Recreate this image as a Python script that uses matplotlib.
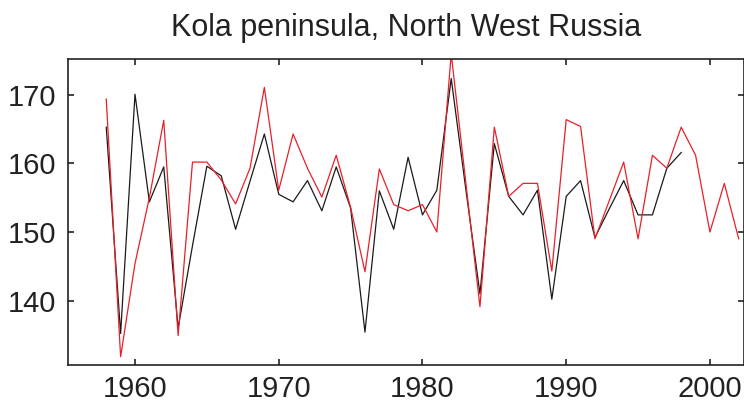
import numpy as np
import matplotlib
matplotlib.use("Agg")
import matplotlib.pyplot as plt

plt.rcParams['font.family'] = ['Liberation Sans', 'DejaVu Sans']

# black series 1958-1998, red series 1958-2002
years_black = list(range(1958, 1999))
black = [165.3, 135.2, 170.1, 154.4, 159.5, 136.0, 148.0, 159.6, 158.2, 150.4,
         157.4, 164.3, 155.5, 154.4, 157.5, 153.1, 159.5, 153.5, 135.4, 156.0,
         150.4, 160.9, 152.5, 156.1, 172.4, 156.5, 141.0, 162.9, 155.2, 152.5,
         156.1, 140.2, 155.2, 157.5, 149.2, 153.4, 157.5, 152.5, 152.5, 159.3,
         161.6]

years_red = list(range(1958, 2003))
red = [169.4, 131.8, 145.4, 155.0, 166.3, 134.9, 160.2, 160.2, 157.6, 154.1,
       159.3, 171.1, 156.1, 164.3, 159.3, 155.1, 161.2, 153.6, 144.2, 159.2,
       154.0, 153.1, 154.0, 150.0, 176.0, 157.5, 139.1, 165.3, 155.2, 157.1,
       157.1, 144.3, 166.4, 165.4, 149.0, 154.6, 160.2, 149.0, 161.2, 159.3,
       165.3, 161.2, 150.0, 157.1, 149.0]

xticks = [1960, 1970, 1980, 1990, 2000]
yticks = [140, 150, 160, 170]

fig = plt.figure(figsize=(7.44, 4.05), dpi=100)
ax = fig.add_axes([0.0918, 0.0988, 0.9082, 0.7548])

ax.plot(years_black, black, color='#1a1a1a', lw=0.9)
ax.plot(years_red, red, color='#e8202a', lw=0.9)

ax.set_xlim(1955.36, 2002.37)
ax.set_ylim(130.6, 175.2)
ax.set_xticks(xticks)
ax.set_yticks(yticks)
ax.tick_params(direction='in', length=4, width=1.2, colors='#222222',
               labelsize=21, top=True, right=True)
ax.tick_params(axis='x', pad=7)
ax.tick_params(axis='y', pad=9)
for s in ax.spines.values():
    s.set_linewidth(1.2)
    s.set_color('#222222')

ax.set_title('Kola peninsula, North West Russia', fontsize=22,
             color='#222222', pad=17)

fig.savefig('out.png', dpi=100)
